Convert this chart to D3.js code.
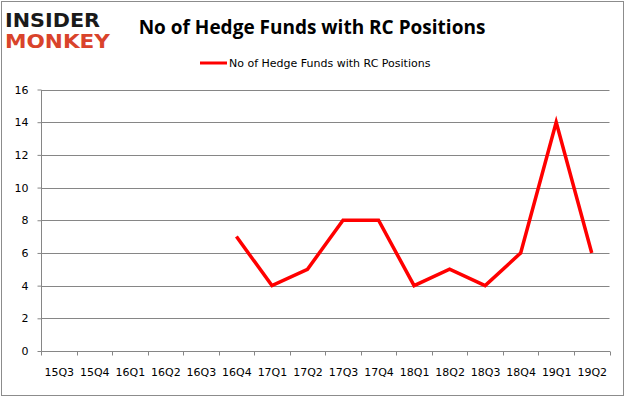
<!DOCTYPE html>
<html>
<head>
<meta charset="utf-8">
<script src="https://cdn.jsdelivr.net/npm/d3@7"></script>
<style>
  body { margin: 0; background: #fff; }
  svg { display: block; }
</style>
</head>
<body>
<svg id="chart" width="626" height="397"></svg>
<script>
const quarters = ["15Q3","15Q4","16Q1","16Q2","16Q3","16Q4","17Q1","17Q2","17Q3","17Q4","18Q1","18Q2","18Q3","18Q4","19Q1","19Q2"];
const funds = [null,null,null,null,null,7,4,5,8,8,4,5,4,6,14,6];
const yTicks = [0,2,4,6,8,10,12,14,16];

const seriesName = "No of Hedge Funds with RC Positions";
const font = "'DejaVu Sans', Verdana, sans-serif";

const svg = d3.select("#chart");

// chart border
svg.append("rect")
    .attr("x", 1.5).attr("y", 1.5)
    .attr("width", 622).attr("height", 394)
    .attr("fill", "white")
    .attr("stroke", "#8c8c8c");

// logo
svg.append("text")
    .attr("x", 5).attr("y", 27)
    .attr("font-family", "'DejaVu Sans', sans-serif")
    .attr("font-weight", "bold")
    .attr("font-size", 19)
    .attr("textLength", 95)
    .attr("lengthAdjust", "spacingAndGlyphs")
    .attr("fill", "#1a1a1a")
    .text("INSIDER");
svg.append("text")
    .attr("x", 5).attr("y", 48)
    .attr("font-family", "'DejaVu Sans', sans-serif")
    .attr("font-weight", "bold")
    .attr("font-size", 20)
    .attr("textLength", 105)
    .attr("lengthAdjust", "spacingAndGlyphs")
    .attr("fill", "#d9432b")
    .text("MONKEY");

// title
svg.append("text")
    .attr("x", 312).attr("y", 34)
    .attr("text-anchor", "middle")
    .attr("font-family", "'Open Sans', sans-serif")
    .attr("font-weight", "bold")
    .attr("font-size", 19)
    .attr("fill", "#000")
    .text("No of Hedge Funds with RC Positions");

// legend
svg.append("line")
    .attr("x1", 200).attr("x2", 227)
    .attr("y1", 63).attr("y2", 63)
    .attr("stroke", "#ff0000")
    .attr("stroke-width", 3);
svg.append("text")
    .attr("x", 229).attr("y", 67)
    .attr("font-family", font)
    .attr("font-size", 11)
    .attr("fill", "#000")
    .text(seriesName);

const x = d3.scaleBand().domain(quarters).range([41, 609.5]);
const y = d3.scaleLinear().domain([0, 16]).range([351, 89.5]);

// gridlines
svg.append("g")
    .selectAll("line")
    .data(yTicks.filter(d => d > 0))
    .join("line")
    .attr("x1", 41).attr("x2", 609.5)
    .attr("y1", d => Math.round(y(d)) + 0.5)
    .attr("y2", d => Math.round(y(d)) + 0.5)
    .attr("stroke", "#868686");

// y axis
const yAxis = svg.append("g")
    .attr("transform", "translate(41.5,0.5)")
    .call(d3.axisLeft(y).tickValues(yTicks).tickSize(4).tickPadding(9)
        .tickFormat(d => d).offset(0));
yAxis.select(".domain").attr("stroke", "#868686").attr("d", `M0,${y(16)}V${y(0)}`);
yAxis.selectAll(".tick line").attr("stroke", "#868686");
yAxis.selectAll(".tick text")
    .attr("font-family", font).attr("font-size", 11).attr("fill", "#000");

// x axis
const xAxis = svg.append("g")
    .attr("transform", `translate(0.5,${Math.round(y(0)) + 0.5})`)
    .call(d3.axisBottom(x).tickSize(0).tickPadding(17).offset(0));
xAxis.select(".domain").attr("stroke", "#868686").attr("d", `M41,0H609.5`);
xAxis.selectAll(".tick text")
    .attr("font-family", font).attr("font-size", 11).attr("fill", "#000");
xAxis.append("g")
    .selectAll("line")
    .data(quarters.map(q => x(q)).concat([609.5]))
    .join("line")
    .attr("x1", d => Math.round(d)).attr("x2", d => Math.round(d))
    .attr("y1", 0).attr("y2", 4)
    .attr("stroke", "#868686");

// series line
const line = d3.line()
    .defined(d => d.v != null)
    .x(d => x(d.q) + x.bandwidth() / 2)
    .y(d => y(d.v));

svg.append("path")
    .datum(quarters.map((q, i) => ({ q, v: funds[i] })))
    .attr("d", line)
    .attr("fill", "none")
    .attr("stroke", "#ff0000")
    .attr("stroke-width", 3.5)
    .attr("stroke-linejoin", "miter");
</script>
</body>
</html>
